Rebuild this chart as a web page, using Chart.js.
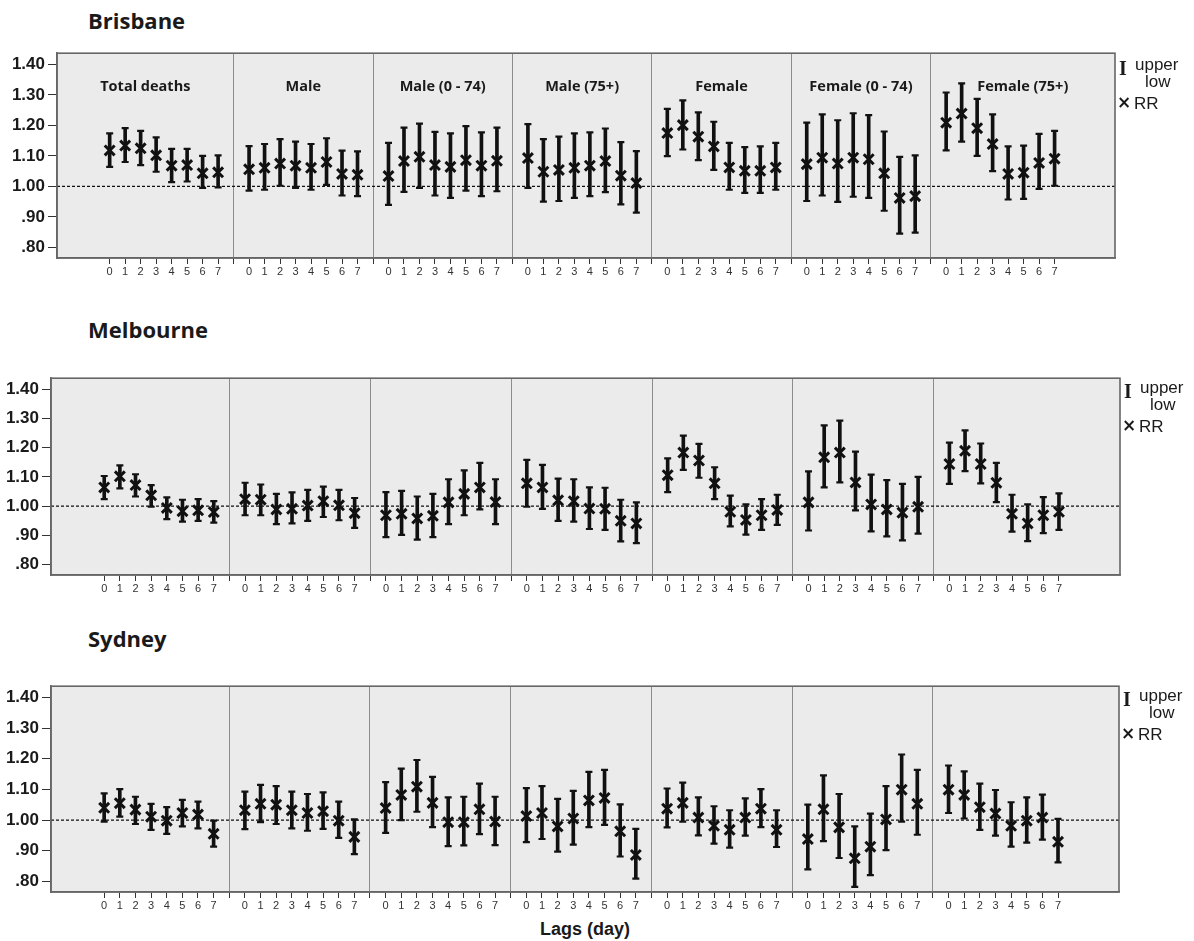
<!DOCTYPE html>
<html><head><meta charset="utf-8">
<script src="https://cdn.jsdelivr.net/npm/chart.js@4.4.1/dist/chart.umd.min.js"></script>
<style>
body{margin:0;background:#fff;width:1194px;height:941px;position:relative;overflow:hidden;font-family:'Liberation Sans',Arial,sans-serif}
.box{position:absolute;left:0;width:1194px}
.city{position:absolute;left:88px;font:bold 22px 'Open Sans',sans-serif;line-height:30px;color:#1a1a1a}
.lg{position:absolute;font:17px 'Liberation Sans',Arial,sans-serif;line-height:18px;color:#1a1a1a;white-space:nowrap}
.ib{position:absolute;font:bold 20px 'Liberation Serif',serif;line-height:20px;color:#1a1a1a}
.xm{position:absolute;font:bold 17px 'DejaVu Sans',sans-serif;line-height:18px;color:#1a1a1a}
#xt{position:absolute;left:485px;width:200px;top:919px;text-align:center;font:bold 18px 'Liberation Sans',Arial,sans-serif;color:#1a1a1a}
</style></head>
<body>
<div class="city" style="top:5px">Brisbane</div>
<div class="city" style="top:314px">Melbourne</div>
<div class="city" style="top:623px">Sydney</div>
<div class="box" style="top:40px;height:245px"><canvas id="c1"></canvas></div>
<div class="box" style="top:365px;height:240px"><canvas id="c2"></canvas></div>
<div class="box" style="top:673px;height:245px"><canvas id="c3"></canvas></div>
<div id="xt">Lags (day)</div>
<script>
const groups = ['Total deaths','Male','Male (0 - 74)','Male (75+)','Female','Female (0 - 74)','Female (75+)'];
const lags = [0,1,2,3,4,5,6,7];
const yTicks = [0.8,0.9,1.0,1.1,1.2,1.3,1.4];

const brisbaneRR = [
 [1.118,1.134,1.125,1.102,1.068,1.070,1.043,1.046],
 [1.056,1.061,1.075,1.068,1.061,1.080,1.041,1.038],
 [1.034,1.083,1.097,1.070,1.064,1.086,1.068,1.084],
 [1.093,1.048,1.054,1.061,1.068,1.083,1.035,1.011],
 [1.175,1.201,1.163,1.131,1.062,1.051,1.051,1.062],
 [1.073,1.094,1.075,1.094,1.089,1.043,0.962,0.968],
 [1.209,1.239,1.191,1.139,1.041,1.045,1.077,1.091]];
const brisbaneLow = [
 [1.064,1.080,1.070,1.048,1.014,1.016,0.995,0.997],
 [0.986,0.989,1.002,0.995,0.989,1.005,0.970,0.968],
 [0.939,0.982,0.995,0.970,0.962,0.986,0.968,0.984],
 [0.995,0.950,0.952,0.962,0.968,0.981,0.941,0.914],
 [1.099,1.121,1.086,1.054,0.989,0.979,0.979,0.989],
 [0.952,0.970,0.949,0.966,0.962,0.920,0.845,0.848],
 [1.118,1.147,1.100,1.050,0.957,0.959,0.992,1.002]];
const brisbaneUp = [
 [1.174,1.191,1.182,1.161,1.123,1.123,1.100,1.102],
 [1.132,1.139,1.155,1.147,1.139,1.158,1.117,1.115],
 [1.143,1.193,1.206,1.179,1.174,1.198,1.177,1.193],
 [1.204,1.155,1.163,1.174,1.177,1.190,1.145,1.116],
 [1.254,1.282,1.243,1.212,1.143,1.129,1.131,1.143],
 [1.209,1.236,1.217,1.240,1.234,1.180,1.097,1.102],
 [1.308,1.338,1.287,1.236,1.131,1.134,1.172,1.182]];

const melbourneRR = [
 [1.064,1.102,1.072,1.037,0.994,0.983,0.986,0.980],
 [1.024,1.022,0.989,0.991,1.002,1.017,1.003,0.976],
 [0.969,0.974,0.958,0.967,1.013,1.042,1.064,1.014],
 [1.078,1.064,1.020,1.017,0.992,0.991,0.950,0.941],
 [1.106,1.183,1.156,1.078,0.981,0.953,0.969,0.987],
 [1.013,1.167,1.183,1.081,1.006,0.989,0.978,0.998],
 [1.144,1.189,1.144,1.080,0.974,0.941,0.969,0.981]];
const melbourneLow = [
 [1.024,1.061,1.033,0.998,0.956,0.947,0.950,0.944],
 [0.969,0.969,0.939,0.941,0.950,0.963,0.952,0.926],
 [0.894,0.902,0.886,0.894,0.939,0.969,0.989,0.939],
 [0.998,0.991,0.950,0.947,0.922,0.919,0.880,0.874],
 [1.048,1.124,1.097,1.024,0.931,0.903,0.919,0.936],
 [0.917,1.064,1.081,0.986,0.914,0.897,0.883,0.906],
 [1.076,1.120,1.078,1.014,0.913,0.881,0.908,0.919]];
const melbourneUp = [
 [1.103,1.139,1.109,1.072,1.030,1.022,1.024,1.017],
 [1.080,1.074,1.042,1.047,1.056,1.067,1.056,1.028],
 [1.048,1.052,1.033,1.042,1.092,1.122,1.148,1.092],
 [1.158,1.141,1.094,1.092,1.064,1.063,1.022,1.013],
 [1.163,1.241,1.213,1.133,1.036,1.006,1.024,1.039],
 [1.119,1.276,1.292,1.186,1.108,1.089,1.076,1.100],
 [1.217,1.259,1.214,1.148,1.039,1.006,1.031,1.044]];

const sydneyRR = [
 [1.040,1.055,1.034,1.011,0.998,1.023,1.018,0.955],
 [1.032,1.053,1.050,1.032,1.023,1.029,0.998,0.945],
 [1.039,1.082,1.109,1.056,0.993,0.993,1.035,0.995],
 [1.013,1.023,0.979,1.005,1.064,1.072,0.963,0.886],
 [1.037,1.056,1.008,0.981,0.968,1.008,1.037,0.968],
 [0.938,1.035,0.976,0.875,0.913,1.002,1.099,1.053],
 [1.099,1.082,1.042,1.021,0.981,0.998,1.008,0.929]];
const sydneyLow = [
 [0.995,1.011,0.987,0.968,0.955,0.979,0.973,0.913],
 [0.970,0.993,0.987,0.973,0.965,0.971,0.942,0.889],
 [0.958,1.000,1.027,0.977,0.915,0.917,0.954,0.918],
 [0.928,0.938,0.897,0.920,0.977,0.984,0.881,0.809],
 [0.976,0.995,0.950,0.923,0.910,0.949,0.977,0.912],
 [0.839,0.931,0.876,0.782,0.820,0.902,0.995,0.952],
 [1.023,1.005,0.968,0.949,0.913,0.926,0.936,0.862]];
const sydneyUp = [
 [1.087,1.101,1.076,1.053,1.042,1.066,1.060,0.998],
 [1.093,1.115,1.111,1.093,1.085,1.090,1.060,1.002],
 [1.124,1.168,1.196,1.141,1.074,1.076,1.119,1.076],
 [1.104,1.111,1.069,1.095,1.157,1.164,1.051,0.971],
 [1.103,1.122,1.074,1.045,1.032,1.071,1.101,1.032],
 [1.050,1.146,1.085,0.979,1.021,1.111,1.214,1.164],
 [1.178,1.159,1.119,1.098,1.058,1.074,1.083,1.004]];

const SLOT = lags.length + 1;
const X_MIN = -2.4, X_MAX = 65.9;
const posOf = (g, i) => g * SLOT + i + 1;

const framePlugin = {
  id: 'frame',
  beforeDraw(chart) {
    const a = chart.chartArea, c = chart.ctx;
    c.save(); c.fillStyle = '#ebebeb';
    c.fillRect(a.left, a.top, a.right - a.left, a.bottom - a.top);
    c.restore();
  },
  beforeDatasetsDraw(chart) {
    const a = chart.chartArea, c = chart.ctx, y = chart.scales.y.getPixelForValue(1);
    c.save(); c.strokeStyle = '#111'; c.lineWidth = 1.2; c.setLineDash([3, 2]);
    c.beginPath(); c.moveTo(a.left, y); c.lineTo(a.right, y); c.stroke(); c.restore();
  },
  afterDraw(chart) {
    const a = chart.chartArea, c = chart.ctx;
    c.save(); c.strokeStyle = '#666'; c.lineWidth = 1.6;
    c.strokeRect(a.left, a.top, a.right - a.left, a.bottom - a.top);
    if (chart.options.plugins.frame && chart.options.plugins.frame.labels) {
      const xs = chart.scales.x, ys = chart.scales.y;
      c.fillStyle = '#1a1a1a'; c.font = 'bold 14.5px "Open Sans", sans-serif';
      c.textAlign = 'center'; c.textBaseline = 'middle';
      groups.forEach((name, g) => {
        const lo = g === 0 ? xs.min : g * SLOT;
        const hi = g === groups.length - 1 ? xs.max : (g + 1) * SLOT;
        c.fillText(name, xs.getPixelForValue((lo + hi) / 2), ys.getPixelForValue(1.328));
      });
    }
    c.restore();
  }
};

function makeChart(id, rr, lo, up, L) {
  const bars = [], caps = [], pts = [];
  groups.forEach((name, g) => lags.forEach((lag, i) => {
    const x = posOf(g, i);
    bars.push({x, y: [lo[g][i], up[g][i]]});
    caps.push({x, y: lo[g][i]}, {x, y: up[g][i]});
    pts.push({x, y: rr[g][i]});
  }));
  const tickVals = [];
  groups.forEach((name, g) => {
    if (g > 0) tickVals.push(g * SLOT);
    lags.forEach((lag, i) => tickVals.push(posOf(g, i)));
  });
  new Chart(document.getElementById(id), {
    type: 'scatter',
    data: {datasets: [
      {type: 'bar', data: bars, backgroundColor: '#111', borderWidth: 0, barThickness: 3, grouped: false, order: 3},
      {type: 'scatter', data: caps, pointStyle: 'line', pointRadius: 3.5, borderWidth: 2.2, borderColor: '#111', order: 2},
      {type: 'scatter', data: pts, pointStyle: 'crossRot', pointRadius: 7, borderWidth: 3, borderColor: '#111', order: 1}
    ]},
    options: {
      responsive: true, maintainAspectRatio: false, animation: false, events: [],
      layout: {padding: {top: 9, right: L.right, left: 0, bottom: 0}},
      plugins: {legend: {display: false}, tooltip: {enabled: false}, frame: {labels: L.labels}},
      scales: {
        x: {
          type: 'linear', min: X_MIN, max: X_MAX, offset: false,
          afterBuildTicks: s => { s.ticks = tickVals.map(v => ({value: v})); },
          afterFit: s => { s.height = L.xh; },
          grid: {
            offset: false, drawOnChartArea: true, lineWidth: 1, tickLength: 6,
            color: ctx => (ctx.tick && ctx.tick.value % SLOT === 0) ? '#8c8c8c' : 'rgba(0,0,0,0)',
            tickColor: '#333'
          },
          border: {display: true, color: '#666', width: 1.6},
          ticks: {
            autoSkip: false, maxRotation: 0, padding: 1, color: '#333',
            font: {family: 'Liberation Sans', size: 11},
            callback: v => (v % SLOT === 0) ? '' : String(lags[(v % SLOT) - 1])
          }
        },
        y: {
          min: 0.765, max: 1.437,
          afterBuildTicks: s => { s.ticks = yTicks.map(v => ({value: v})); },
          afterFit: s => { s.width = L.left; },
          grid: {drawOnChartArea: false, tickLength: 9, tickColor: '#333'},
          border: {display: true, color: '#666', width: 1.6},
          ticks: {
            padding: 3, color: '#1a1a1a', font: {family: 'Liberation Sans', size: 17, weight: 'bold'},
            callback: v => { const s = Number(v).toFixed(2); return v < 1 ? s.replace(/^0/, '') : s; }
          }
        }
      }
    },
    plugins: [framePlugin]
  });
}

function legend(x0, y0) {
  const add = (cls, txt, l, t) => {
    const d = document.createElement('div'); d.className = cls; d.textContent = txt;
    d.style.left = l + 'px'; d.style.top = t + 'px'; document.body.appendChild(d);
  };
  add('ib', 'I', x0 - 4, y0 - 7);
  add('lg', 'upper', x0 + 12, y0 - 9);
  add('lg', 'low', x0 + 22, y0 + 8);
  add('xm', '×', x0 - 6, y0 + 28);
  add('lg', 'RR', x0 + 11, y0 + 30);
}

makeChart('c1', brisbaneRR, brisbaneLow, brisbaneUp, {left: 57, right: 79, xh: 27, labels: true});
makeChart('c2', melbourneRR, melbourneLow, melbourneUp, {left: 51, right: 74, xh: 30, labels: false});
makeChart('c3', sydneyRR, sydneyLow, sydneyUp, {left: 51, right: 75, xh: 26, labels: false});
legend(1123, 65);
legend(1128, 388);
legend(1127, 696);
</script>
</body></html>
